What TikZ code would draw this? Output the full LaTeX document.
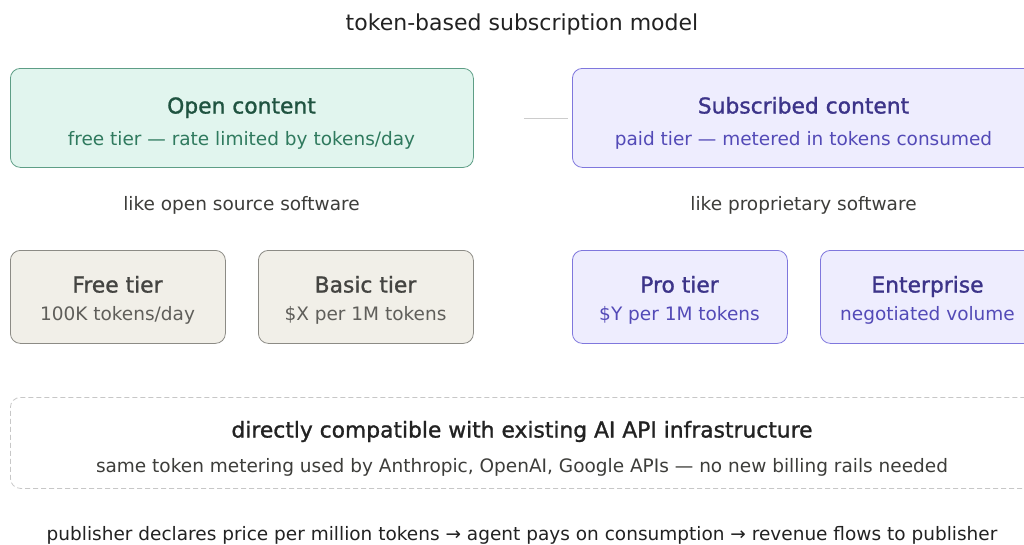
\documentclass[tikz,border=0pt]{standalone}
\usepackage{fontspec}
\setmainfont{DejaVu Sans}
\newfontfamily\medfont[FakeBold=1.2]{DejaVu Sans}
\usetikzlibrary{positioning}
\definecolor{grnfill}{HTML}{E1F5EE}
\definecolor{grnline}{HTML}{5E9E86}
\definecolor{grndark}{HTML}{1F5340}
\definecolor{grnsub}{HTML}{2F7A5E}
\definecolor{purfill}{HTML}{EEEDFE}
\definecolor{purline}{HTML}{7F77DD}
\definecolor{purdark}{HTML}{3C3489}
\definecolor{pursub}{HTML}{534AB7}
\definecolor{grayfill}{HTML}{F1EFE8}
\definecolor{grayline}{HTML}{8C8B85}
\definecolor{graydark}{HTML}{444441}
\definecolor{graysub}{HTML}{5F5E5A}
\definecolor{txt}{HTML}{222222}
\definecolor{note}{HTML}{3D3D3A}
\tikzset{
  x=1pt, y=-1pt,
  box/.style={rounded corners=10pt, line width=0.8pt, inner sep=0pt, anchor=north west},
  greenbox/.style={box, fill=grnfill, draw=grnline},
  purbox/.style={box, fill=purfill, draw=purline},
  graybox/.style={box, fill=grayfill, draw=grayline},
  lbl/.style={inner sep=0pt, anchor=base},
  bigf/.style={font=\medfont\fontsize{21.8}{26}\selectfont},
  smf/.style={font=\fontsize{18.5}{22}\selectfont},
}
\begin{document}
\begin{tikzpicture}
\useasboundingbox[fill=white] (0,0) rectangle (1024,544);
\node[lbl, text=txt, font=\fontsize{22}{26}\selectfont] (title) at (522,30) {token-based subscription model};

% main boxes
\node[greenbox, minimum width=463pt, minimum height=99pt] (open) at (10,68) {};
\node[purbox, minimum width=463pt, minimum height=99pt] (sub) at (572,68) {};
\node[lbl, text=grndark, bigf] (opent) at (241.5,113.5) {Open content};
\node[lbl, text=grnsub, smf] (opens) at (241.5,145.5) {free tier — rate limited by tokens/day};
\node[lbl, text=purdark, bigf] (subt) at (803.5,113.5) {Subscribed content};
\node[lbl, text=pursub, smf] (subs) at (803.5,145.5) {paid tier — metered in tokens consumed};
\draw[line width=0.7pt, draw=black!20, shorten <=50pt, shorten >=4pt] (open.east) -- (sub.west);

\node[lbl, text=note, smf] (likeopen) at (241.5,210.5) {like open source software};
\node[lbl, text=note, smf] (likeprop) at (803.5,210.5) {like proprietary software};

% tier boxes
\node[graybox, minimum width=215pt, minimum height=93pt] (free) at (10,250) {};
\node[graybox, minimum width=215pt, minimum height=93pt] (basic) at (258,250) {};
\node[purbox, minimum width=215pt, minimum height=93pt] (pro) at (572,250) {};
\node[purbox, minimum width=215pt, minimum height=93pt] (ent) at (820,250) {};
\node[lbl, text=graydark, bigf] (freet) at (117.5,292.5) {Free tier};
\node[lbl, text=graysub, smf] (frees) at (117.5,320.5) {100K tokens/day};
\node[lbl, text=graydark, bigf] (basict) at (365.5,292.5) {Basic tier};
\node[lbl, text=graysub, smf] (basics) at (365.5,320.5) {\$X per 1M tokens};
\node[lbl, text=purdark, bigf] (prot) at (679.5,292.5) {Pro tier};
\node[lbl, text=pursub, smf] (pros) at (679.5,320.5) {\$Y per 1M tokens};
\node[lbl, text=purdark, bigf] (entt) at (927.5,292.5) {Enterprise};
\node[lbl, text=pursub, smf] (ents) at (927.5,320.5) {negotiated volume};

% dashed box
\node[box, draw=black!22, dashed, dash pattern=on 5pt off 3pt, minimum width=1025pt, minimum height=91pt] (compat) at (10,397) {};
\node[lbl, text=txt, bigf] (compt) at (522,437.5) {directly compatible with existing AI API infrastructure};
\node[lbl, text=note, smf] (comps) at (522,472.5) {same token metering used by Anthropic, OpenAI, Google APIs — no new billing rails needed};

\node[lbl, text=txt, smf] (flow) at (522,540.5) {publisher declares price per million tokens → agent pays on consumption → revenue flows to publisher};
\end{tikzpicture}
\end{document}
